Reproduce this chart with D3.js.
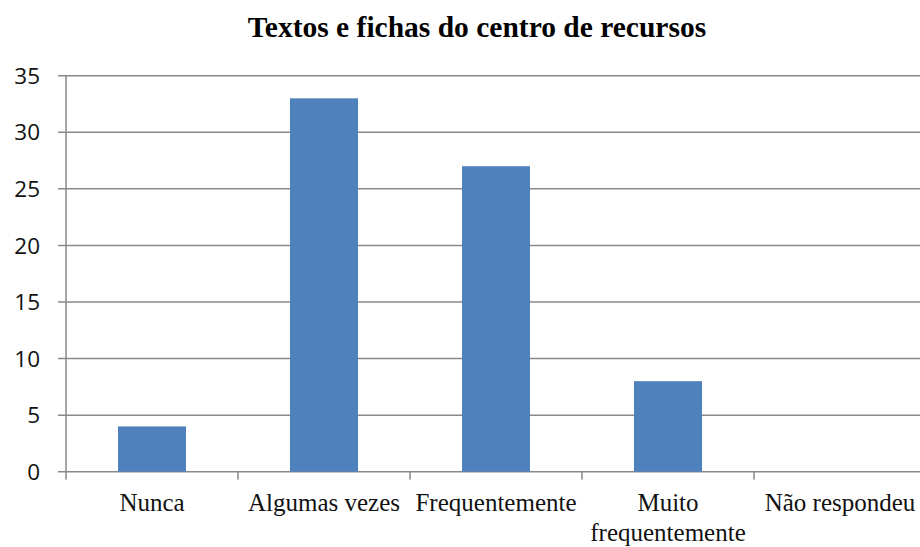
<!DOCTYPE html>
<html>
<head>
<meta charset="utf-8">
<script src="https://cdn.jsdelivr.net/npm/d3@7"></script>
<style>
  body { margin: 0; background: #fff; }
</style>
</head>
<body>
<script>
// dados do gráfico
let categories = ["Nunca", "Algumas vezes", "Frequentemente", "Muito frequentemente", "Não respondeu"];
let values = [4, 33, 27, 8, 0];
let yTicks = [0, 5, 10, 15, 20, 25, 30, 35];
let title = "Textos e fichas do centro de recursos";

let width = 920, height = 547;
let margin = {top: 76, right: -6, bottom: 76, left: 66};

let svg = d3.select("body").append("svg")
    .attr("width", width)
    .attr("height", height);

let x = d3.scaleBand()
    .domain(categories)
    .range([margin.left, width - margin.right]);

let y = d3.scaleLinear()
    .domain([0, 35])
    .range([height - margin.bottom + 0.7, margin.top - 0.3]);

// título
svg.append("text")
    .attr("x", 477)
    .attr("y", 37)
    .attr("text-anchor", "middle")
    .attr("font-family", "'Liberation Serif', 'Times New Roman', serif")
    .attr("font-weight", "bold")
    .attr("font-size", 29.5)
    .text(title);

// linhas de grade
svg.append("g")
    .selectAll("line")
    .data(yTicks)
    .join("line")
    .attr("x1", margin.left - 8)
    .attr("x2", width)
    .attr("y1", d => y(d))
    .attr("y2", d => y(d))
    .attr("stroke", "#898989")
    .attr("stroke-width", 1.5);

// eixo Y
svg.append("line")
    .attr("x1", margin.left).attr("x2", margin.left)
    .attr("y1", y(35)).attr("y2", y(0))
    .attr("stroke", "#898989")
    .attr("stroke-width", 1.5);

svg.append("g")
    .selectAll("text")
    .data(yTicks)
    .join("text")
    .attr("x", 40)
    .attr("y", d => y(d))
    .attr("dy", "0.36em")
    .attr("text-anchor", "end")
    .attr("font-family", "'Open Sans', sans-serif")
    .attr("font-size", 22.5)
    .attr("fill", "#111")
    .text(d => d);

// marcas do eixo X
let bounds = categories.map(c => x(c)).concat([x.range()[1]]);
svg.append("g")
    .selectAll("line")
    .data(bounds)
    .join("line")
    .attr("x1", d => d).attr("x2", d => d)
    .attr("y1", y(0)).attr("y2", y(0) + 8)
    .attr("stroke", "#898989")
    .attr("stroke-width", 1.5);

// barras
let barW = 68;
svg.append("g")
    .selectAll("rect")
    .data(values)
    .join("rect")
    .attr("x", (d, i) => x(categories[i]) + x.bandwidth() / 2 - barW / 2)
    .attr("width", barW)
    .attr("y", d => y(d))
    .attr("height", d => y(0) - y(d))
    .attr("fill", "#4f81bd");

// rótulos do eixo X
let labelLines = [["Nunca"], ["Algumas vezes"], ["Frequentemente"], ["Muito", "frequentemente"], ["Não respondeu"]];
svg.append("g")
    .selectAll("text")
    .data(labelLines)
    .join("text")
    .attr("x", (d, i) => x(categories[i]) + x.bandwidth() / 2)
    .attr("y", 511)
    .attr("text-anchor", "middle")
    .attr("font-family", "'Liberation Serif', 'Times New Roman', serif")
    .attr("font-size", 25)
    .attr("fill", "#111")
    .selectAll("tspan")
    .data(d => d)
    .join("tspan")
    .attr("x", function () { return this.parentNode.getAttribute("x"); })
    .attr("dy", (d, i) => i === 0 ? 0 : 30)
    .text(d => d);
</script>
</body>
</html>
